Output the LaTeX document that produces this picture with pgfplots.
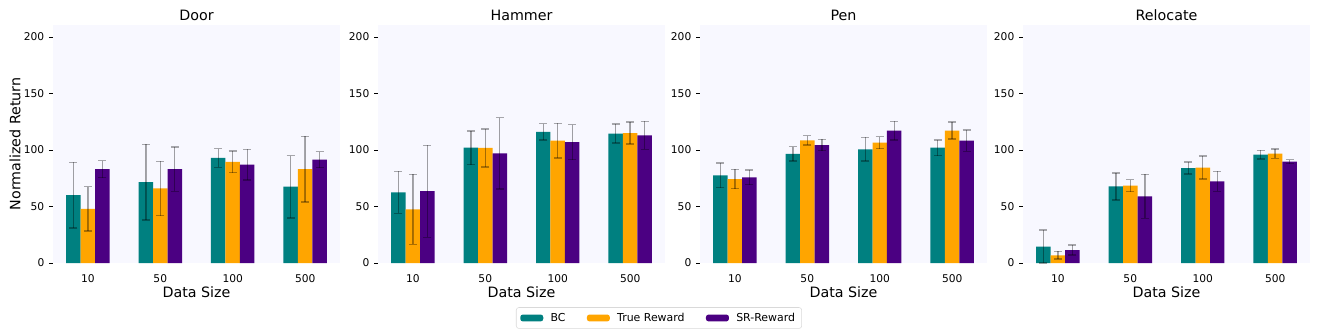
\documentclass[border=0pt]{standalone}
\usepackage{fontspec}
\setmainfont{DejaVu Sans}
\usepackage{pgfplots}
\usepackage{pgfplotstable}
\pgfplotsset{compat=1.18}

\definecolor{bc}{HTML}{008080}
\definecolor{tr}{HTML}{FFA500}
\definecolor{sr}{HTML}{4B0082}
\definecolor{bg}{HTML}{F8F8FF}

% x: category index (10, 50, 100, 500); values and std errors per method
\pgfplotstableread{
x bc bce tr tre sr sre
0 60 29 48 19.5 83 7.5
1 71.5 33.5 66 24 83 19.7
2 93 8.3 89.5 9.5 87 13.6
3 67.5 27.5 83 29 91.5 7
}\door
\pgfplotstableread{
x bc bce tr tre sr sre
0 62.5 18.5 47.5 31 63.5 40.7
1 102 15 101.8 16.7 97 31.7
2 116 7.3 108.3 15.2 107 15.5
3 114.5 8.5 115 9.8 113 12.4
}\hammer
\pgfplotstableread{
x bc bce tr tre sr sre
0 77.6 11 74.3 8.5 75.8 6.5
1 96.5 6.4 108.6 4.1 104.4 4.9
2 100.6 10.5 106.5 5.4 117.1 8.3
3 102 6.9 117.1 7.5 108.3 9.6
}\pen
\pgfplotstableread{
x bc bce tr tre sr sre
0 14.5 14.6 6.8 3.4 11.5 4.3
1 67.8 12 68.4 5.3 59 19.5
2 84 5.3 84.4 10.2 72.3 8.9
3 95.9 3.7 96.8 4.1 89.7 1.8
}\relocate

\pgfplotsset{panel/.style={
  scale only axis, width=215.25pt, height=178.5pt,
  xmin=-0.48, xmax=3.48, ymin=0, ymax=210.6,
  axis background/.style={fill=bg},
  axis line style={draw=none},
  xtick={0,1,2,3}, xticklabels={10,50,100,500},
  ytick={0,50,100,150,200},
  tick align=outside, xtick pos=bottom, ytick pos=left,
  xtick style={draw=none}, ytick style={black, line width=0.6pt},
  major tick length=3pt,
  ticklabel style={font=\fontsize{8}{9}\selectfont},
  xticklabel style={yshift=-2pt},
  /pgf/number format/assume math mode=true,
  title style={font=\fontsize{10.7}{12}\selectfont, at={(0.5,1)}, anchor=base, yshift=-2.25pt},
  xlabel={Data Size},
  xlabel style={font=\fontsize{10.7}{12}\selectfont, at={(axis description cs:0.5,0)}, anchor=base, yshift=-25.5pt},
  ybar, bar width=0.2,
  error bars/y dir=both, error bars/y explicit,
  error bars/error bar style={black, opacity=0.33, line width=1.1pt},
  error bars/error mark options={rotate=90, mark size=3pt, black, opacity=0.33, line width=1.1pt},
  legend image code/.code={\fill[#1] (0pt,-2.6pt) rectangle (17.25pt,2.6pt);},
}}

\newcommand\bars[1]{%
  \addplot[fill=bc, draw=none, bar shift=-0.2] table[x=x, y=bc, y error=bce]{#1};
  \addplot[fill=tr, draw=none, bar shift=0] table[x=x, y=tr, y error=tre]{#1};
  \addplot[fill=sr, draw=none, bar shift=0.2] table[x=x, y=sr, y error=sre]{#1};
}

\begin{document}
\begin{tikzpicture}
\path[use as bounding box] (0,0) rectangle (990pt,247.5pt);

\begin{axis}[panel, at={(39.75pt,50.25pt)}, anchor=south west, title={Door},
  ylabel={Normalized Return},
  ylabel style={font=\fontsize{10.7}{12}\selectfont, at={(axis description cs:-0.1324,0.5)}, anchor=center}]
\bars{\door}
\end{axis}

\begin{axis}[panel, at={(283.5pt,50.25pt)}, anchor=south west, title={Hammer},
  legend columns=3,
  legend style={at={(axis description cs:0.979,-0.231)}, anchor=center,
    draw=black!15, rounded corners=2pt, font=\fontsize{8.2}{9}\selectfont,
    /tikz/every odd column/.append style={column sep=3.5pt},
    /tikz/every even column/.append style={column sep=14pt}}]
\bars{\hammer}
\legend{BC, True Reward, SR-Reward}
\end{axis}

\begin{axis}[panel, at={(525pt,50.25pt)}, anchor=south west, title={Pen}]
\bars{\pen}
\end{axis}

\begin{axis}[panel, at={(767.25pt,50.25pt)}, anchor=south west, title={Relocate}]
\bars{\relocate}
\end{axis}
\end{tikzpicture}
\end{document}
